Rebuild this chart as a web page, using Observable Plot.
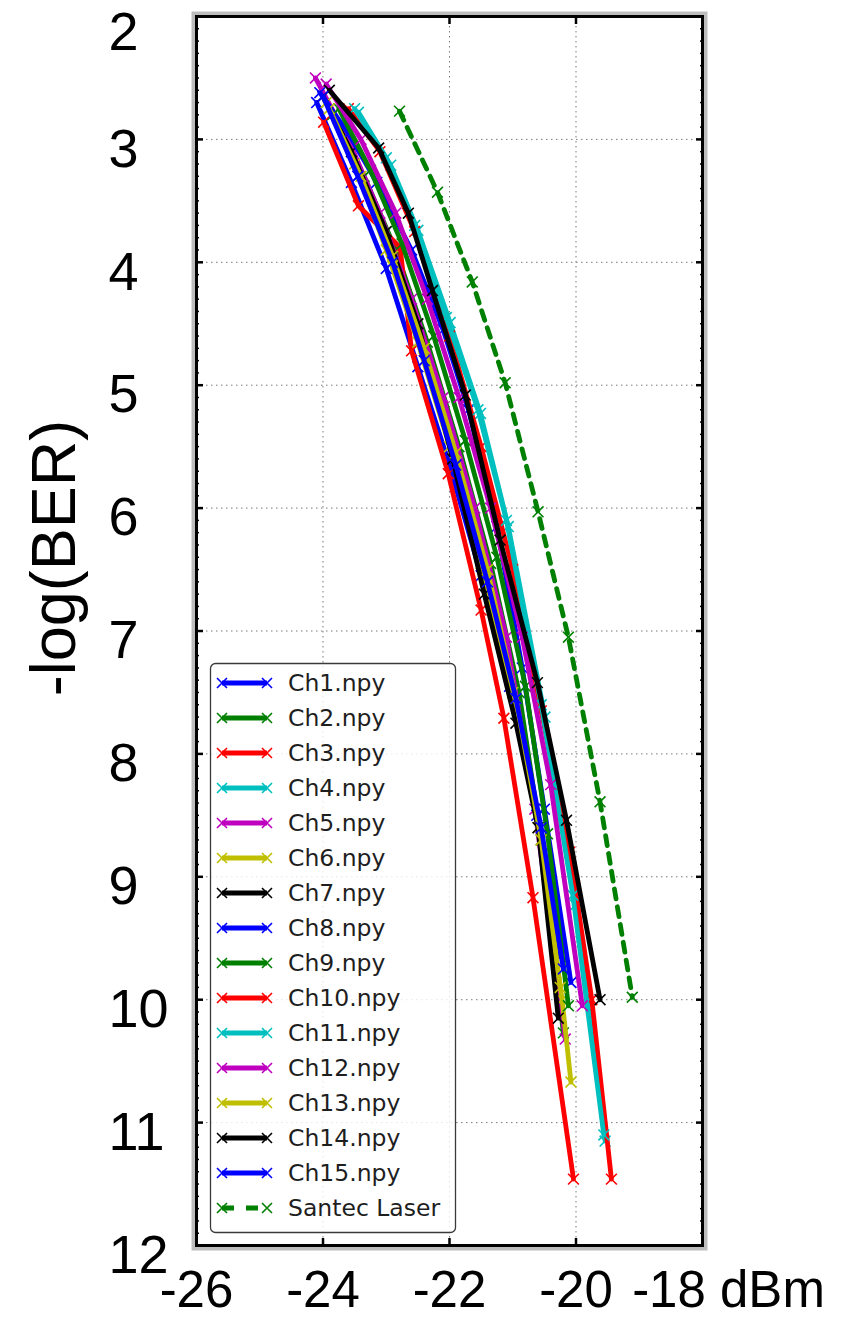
<!DOCTYPE html>
<html><head><meta charset="utf-8">
<script src="https://cdn.jsdelivr.net/npm/d3@7"></script>
<script src="https://cdn.jsdelivr.net/npm/@observablehq/plot@0.6"></script>
<style>
html,body{margin:0;padding:0;background:#fff;}
#chart{position:relative;width:846px;height:1318px;overflow:hidden;}
</style></head><body><div id="chart"></div>
<script>
// ---- data ----
const seriesNames = ["Ch1.npy","Ch2.npy","Ch3.npy","Ch4.npy","Ch5.npy","Ch6.npy","Ch7.npy","Ch8.npy","Ch9.npy","Ch10.npy","Ch11.npy","Ch12.npy","Ch13.npy","Ch14.npy","Ch15.npy","Santec Laser"];
const seriesColors = ["#0000ff","#008000","#ff0000","#00bfbf","#bf00bf","#bfbf00","#000000","#0000ff","#008000","#ff0000","#00bfbf","#bf00bf","#bfbf00","#000000","#0000ff","#008000"];

const ch1_dBm  = [-24.1,-23.55,-23.0,-22.5,-22.0,-21.5,-21.05,-20.62,-20.25];
const ch1_ber  = [2.7,3.35,4.05,4.85,5.65,6.55,7.45,8.5,9.65];
const ch2_dBm  = [-23.85,-23.35,-22.85,-22.35,-21.85,-21.35,-20.9,-20.55,-20.2];
const ch2_ber  = [2.8,3.3,3.9,4.65,5.5,6.45,7.5,8.7,10.27];
const ch3_dBm  = [-23.99,-23.44,-22.78,-22.6,-22.02,-21.5,-21.14,-20.68,-20.04];
const ch3_ber  = [2.86,3.54,3.88,4.72,5.72,6.83,7.71,9.17,11.46];
const ch4_dBm  = [-23.44,-22.93,-22.5,-21.99,-21.51,-21.07,-20.49,-20.01,-19.54];
const ch4_ber  = [2.78,3.21,3.74,4.49,5.23,6.15,7.7,9.23,11.15];
const ch5_dBm  = [-24.12,-23.6,-23.1,-22.6,-22.1,-21.6,-21.1,-20.65,-20.17];
const ch5_ber  = [2.5,3.0,3.6,4.3,5.1,6.0,7.05,8.45,10.32];
const ch6_dBm  = [-23.95,-23.5,-23.0,-22.5,-22.0,-21.5,-21.0,-20.6,-20.22,-20.08];
const ch6_ber  = [2.7,3.2,3.9,4.65,5.5,6.45,7.5,8.6,10.0,10.67];
const ch7_dBm  = [-24.0,-23.55,-23.0,-22.5,-21.95,-21.45,-20.95,-20.6,-20.28];
const ch7_ber  = [2.65,3.1,3.75,4.5,5.6,6.7,7.75,8.6,10.15];
const ch8_dBm  = [-24.05,-23.6,-23.15,-22.6,-22.1,-21.7,-21.25,-20.85,-20.5,-20.08];
const ch8_ber  = [2.62,2.95,3.35,3.9,4.55,5.2,6.15,7.3,8.45,9.86];
const ch9_dBm  = [-23.75,-23.25,-22.75,-22.25,-21.75,-21.25,-20.8,-20.45,-20.12];
const ch9_ber  = [2.75,3.25,3.85,4.6,5.45,6.4,7.45,8.65,10.05];
const ch10_dBm = [-23.6,-23.1,-22.55,-22.0,-21.5,-21.0,-20.55,-20.1,-19.75,-19.44];
const ch10_ber = [2.75,3.1,3.75,4.6,5.5,6.5,7.65,8.8,10.0,11.46];
const ch11_dBm = [-23.5,-23.0,-22.55,-22.05,-21.55,-21.1,-20.55,-20.05,-19.56];
const ch11_ber = [2.75,3.15,3.7,4.45,5.2,6.1,7.6,9.15,11.1];
const ch12_dBm = [-23.95,-23.4,-22.85,-22.35,-21.85,-21.35,-20.85,-20.4,-19.9];
const ch12_ber = [2.55,3.0,3.6,4.3,5.1,6.0,7.05,8.25,10.05];
const ch13_dBm = [-23.9,-23.4,-22.9,-22.4,-21.9,-21.4,-20.95,-20.55,-20.25];
const ch13_ber = [2.75,3.3,3.95,4.7,5.55,6.5,7.55,8.7,9.9];
const ch14_dBm = [-23.9,-23.12,-22.65,-22.27,-21.75,-21.2,-20.61,-20.15,-19.62];
const ch14_ber = [2.6,3.07,3.6,4.23,5.08,6.26,7.42,8.54,10.0];
const ch15_dBm = [-24.0,-23.45,-22.9,-22.4,-21.9,-21.4,-20.95,-20.55,-20.2];
const ch15_ber = [2.65,3.3,4.0,4.8,5.65,6.6,7.55,8.6,9.75];
const santec_dBm = [-22.79,-22.19,-21.64,-21.12,-20.6,-20.12,-19.62,-19.11];
const santec_ber = [2.77,3.43,4.16,4.98,6.03,7.05,8.39,9.98];

const xTickValues = [-26,-24,-22,-20];
const xLastTick = [-18];
const xUnit = "dBm";
const yTopTick = [2];
const yTickValues = [3,4,5,6,7,8,9,10,11,12];
const xGridValues = [-24,-22,-20];
const yGridValues = [3,4,5,6,7,8,9,10,11];
const yLabel = "-log(BER)";

const seriesX = [ch1_dBm,ch2_dBm,ch3_dBm,ch4_dBm,ch5_dBm,ch6_dBm,ch7_dBm,ch8_dBm,ch9_dBm,ch10_dBm,ch11_dBm,ch12_dBm,ch13_dBm,ch14_dBm,ch15_dBm,santec_dBm];
const seriesY = [ch1_ber,ch2_ber,ch3_ber,ch4_ber,ch5_ber,ch6_ber,ch7_ber,ch8_ber,ch9_ber,ch10_ber,ch11_ber,ch12_ber,ch13_ber,ch14_ber,ch15_ber,santec_ber];

// ---- build ----
const series = seriesNames.map((name, i) => ({
  name, color: seriesColors[i], dashed: name === "Santec Laser",
  rows: seriesX[i].map((x, j) => ({x, y: seriesY[i][j], name}))
}));

const dataMarks = [];
for (const s of series) {
  dataMarks.push(Plot.line(s.rows, {x: "x", y: "y", stroke: s.color, strokeWidth: 4.8,
    strokeDasharray: s.dashed ? "10,8" : null, strokeLinejoin: "round"}));
  dataMarks.push(Plot.dot(s.rows, {x: "x", y: "y", symbol: "times", r: 5, stroke: s.color, strokeWidth: 1.6}));
}

const minorY = d3.range(20, 121).map(d => d / 10);
const tickFont = "'Liberation Sans', Arial, Helvetica, sans-serif";

const svg = Plot.plot({
  width: 846, height: 1318,
  marginLeft: 196, marginRight: 144, marginTop: 16, marginBottom: 73,
  x: {domain: [-26, -18]},
  y: {domain: [2, 12], reverse: true},
  style: {fontFamily: tickFont, background: "white", color: "black"},
  marks: [
    Plot.frame({inset: -3, stroke: "#bdbdbd", strokeWidth: 4}),
    Plot.gridX({ticks: xGridValues, stroke: "#7a7a7a", strokeOpacity: 1, strokeWidth: 1, strokeDasharray: "1.5,3.5"}),
    Plot.gridY({ticks: yGridValues, stroke: "#7a7a7a", strokeOpacity: 1, strokeWidth: 1, strokeDasharray: "1.5,3.5"}),
    ...dataMarks,
    // inward ticks
    Plot.axisX({anchor: "bottom", ticks: xGridValues, tickSize: -7, tickFormat: () => "", label: null, strokeWidth: 2.5}),
    Plot.axisX({anchor: "top", ticks: xGridValues, tickSize: -7, tickFormat: () => "", label: null, strokeWidth: 2.5}),
    Plot.axisY({anchor: "left", ticks: minorY, tickSize: -3, tickFormat: () => "", label: null, strokeWidth: 1.5}),
    Plot.axisY({anchor: "right", ticks: minorY, tickSize: -3, tickFormat: () => "", label: null, strokeWidth: 1.5}),
    Plot.axisY({anchor: "left", ticks: yGridValues, tickSize: -7, tickFormat: () => "", label: null, strokeWidth: 2.5}),
    Plot.axisY({anchor: "right", ticks: yGridValues, tickSize: -7, tickFormat: () => "", label: null, strokeWidth: 2.5}),
    Plot.frame({stroke: "black", strokeWidth: 3}),
    // tick labels
    Plot.axisX({anchor: "bottom", ticks: xTickValues, tickSize: 0, tickPadding: 25, tickFormat: d => String(d),
      label: null, fontSize: 51, fill: "black"}),
    Plot.axisX({anchor: "bottom", ticks: xLastTick, tickSize: 0, tickPadding: 25, tickFormat: d => `${d} ${xUnit}`,
      label: null, fontSize: 51, fill: "black", dx: 26}),
    Plot.axisY({anchor: "left", ticks: yTickValues, tickSize: 0, tickPadding: 88, textAnchor: "start",
      tickFormat: d => String(d), label: null, fontSize: 54, fill: "black", dy: 10}),
    Plot.axisY({anchor: "left", ticks: yTopTick, tickSize: 0, tickPadding: 88, textAnchor: "start",
      tickFormat: d => String(d), label: null, fontSize: 54, fill: "black", dy: 16}),
    Plot.text([yLabel], {frameAnchor: "left", dx: -142, dy: -73, rotate: -90, fontSize: 63,
      fill: "black", textAnchor: "middle", lineAnchor: "middle"})
  ]
});
document.getElementById("chart").appendChild(svg);

// ---- legend (inside the plot area) ----
const lg = d3.select(svg).append("g").attr("class", "legend").attr("text-anchor", "start");
lg.append("rect").attr("x", 210.5).attr("y", 663.5).attr("width", 245).attr("height", 569)
  .attr("rx", 5).attr("fill", "white").attr("fill-opacity", 0.82)
  .attr("stroke", "#3a3a3a").attr("stroke-width", 1.3);
const xMark = (g, cx, cy, color) => {
  const r = 5;
  g.append("path").attr("d", `M${cx - r},${cy - r}L${cx + r},${cy + r}M${cx - r},${cy + r}L${cx + r},${cy - r}`)
    .attr("stroke", color).attr("stroke-width", 1.6).attr("fill", "none");
};
series.forEach((s, i) => {
  const cy = 683 + 35 * i;
  const g = lg.append("g");
  g.append("line").attr("x1", 222).attr("x2", 267).attr("y1", cy).attr("y2", cy)
    .attr("stroke", s.color).attr("stroke-width", 4.8)
    .attr("stroke-dasharray", s.dashed ? "12,12" : null);
  xMark(g, 222, cy, s.color);
  xMark(g, 267, cy, s.color);
  g.append("text").attr("x", 288).attr("y", cy).attr("dy", "0.36em")
    .attr("text-anchor", "start")
    .attr("font-family", "'DejaVu Sans', sans-serif").attr("font-size", 23.5)
    .attr("fill", "#1e1e1e").text(s.name);
});
</script></body></html>
